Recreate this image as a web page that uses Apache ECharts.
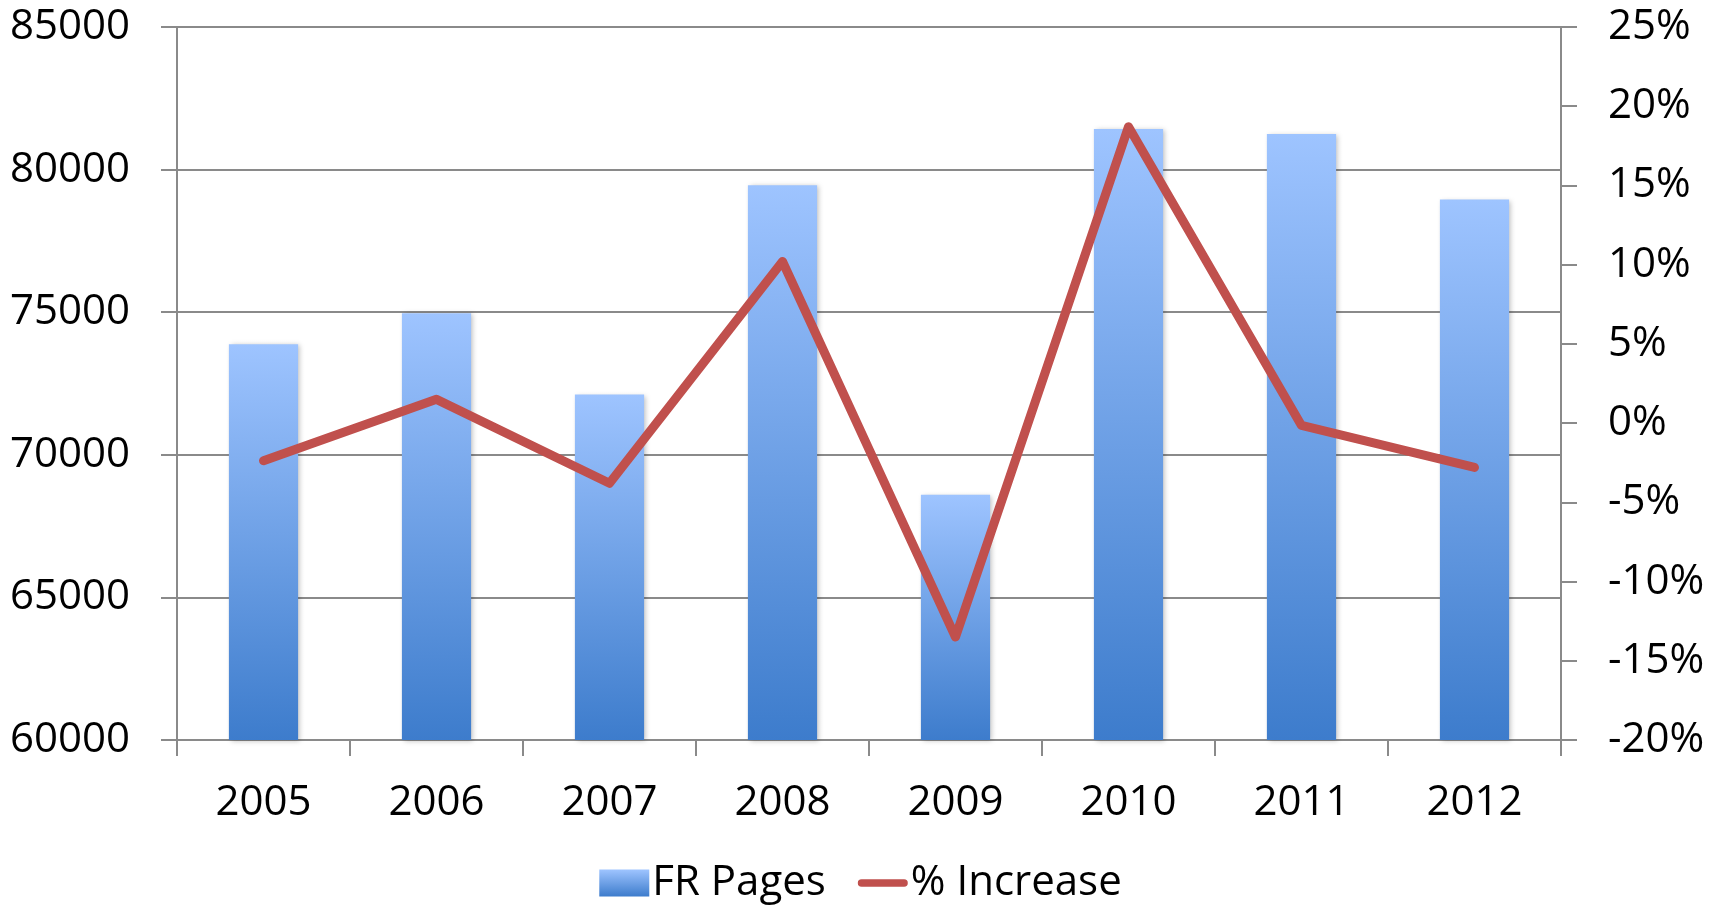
<!DOCTYPE html>
<html>
<head>
<meta charset="utf-8">
<script src="https://cdn.jsdelivr.net/npm/echarts@6/dist/echarts.min.js"></script>
<style>html,body{margin:0;padding:0;background:#fff;}#c{width:1721px;height:909px;}</style>
</head>
<body>
<div id="c"></div>
<script>
const years = ['2005','2006','2007','2008','2009','2010','2011','2012'];
const frPages = [73880, 74960, 72110, 79450, 68600, 81420, 81250, 78950];
const pctIncrease = [-2.37, 1.5, -3.8, 10.2, -13.5, 18.7, -0.15, -2.8];
const seriesNames = ['FR Pages', '% Increase'];

const font = 'Open Sans';
const chart = echarts.init(document.getElementById('c'));
chart.setOption({
  animation: false,
  backgroundColor: '#fff',
  textStyle: { fontFamily: font },
  grid: { left: 177, right: 160, top: 27, bottom: 169, containLabel: false },
  legend: {
    bottom: 0,
    left: 'center',
    itemWidth: 50,
    itemHeight: 27,
    itemGap: 32,
    textStyle: { fontSize: 42, fontFamily: font, color: '#000', padding: [0,0,0,-2] },
    data: [
      { name: seriesNames[0], icon: 'rect' },
      { name: seriesNames[1], icon: 'path://M4,0 H49 A4,4 0 0 1 49,8 H4 A4,4 0 0 1 4,0 Z' }
    ]
  },
  xAxis: {
    type: 'category',
    data: years,
    axisLine: { onZero: false, lineStyle: { color: '#8a8a8a', width: 2 } },
    axisTick: { show: true, length: 16, lineStyle: { color: '#8a8a8a', width: 2 } },
    axisLabel: { fontSize: 42, color: '#000', margin: 42, fontFamily: font }
  },
  yAxis: [
    {
      type: 'value', min: 60000, max: 85000, interval: 5000,
      axisLine: { show: true, lineStyle: { color: '#8a8a8a', width: 2 } },
      axisTick: { show: true, length: 16, lineStyle: { color: '#8a8a8a', width: 2 } },
      splitLine: { show: true, lineStyle: { color: '#8a8a8a', width: 2 } },
      axisLabel: { fontSize: 42, color: '#000', margin: 47, fontFamily: font, formatter: v => String(v) }
    },
    {
      type: 'value', min: -20, max: 25, interval: 5, position: 'right',
      axisLine: { show: true, lineStyle: { color: '#8a8a8a', width: 2 } },
      axisTick: { show: true, length: 16, lineStyle: { color: '#8a8a8a', width: 2 } },
      splitLine: { show: false },
      axisLabel: { fontSize: 42, color: '#000', margin: 47, fontFamily: font, formatter: '{value}%' }
    }
  ],
  series: [
    {
      name: seriesNames[0],
      type: 'bar',
      data: frPages,
      barWidth: '40%',
      itemStyle: {
        color: new echarts.graphic.LinearGradient(0, 0, 0, 1, [
          { offset: 0, color: '#9ec4ff' },
          { offset: 1, color: '#3d7ccc' }
        ]),
        shadowBlur: 5,
        shadowColor: 'rgba(0,0,0,0.25)',
        shadowOffsetX: 2,
        shadowOffsetY: 1
      }
    },
    {
      name: seriesNames[1],
      type: 'line',
      yAxisIndex: 1,
      data: pctIncrease,
      symbol: 'none',
      lineStyle: { color: '#c0504d', width: 9, cap: 'round', join: 'round' },
      itemStyle: { color: '#c0504d' }
    }
  ]
});
</script>
</body>
</html>
